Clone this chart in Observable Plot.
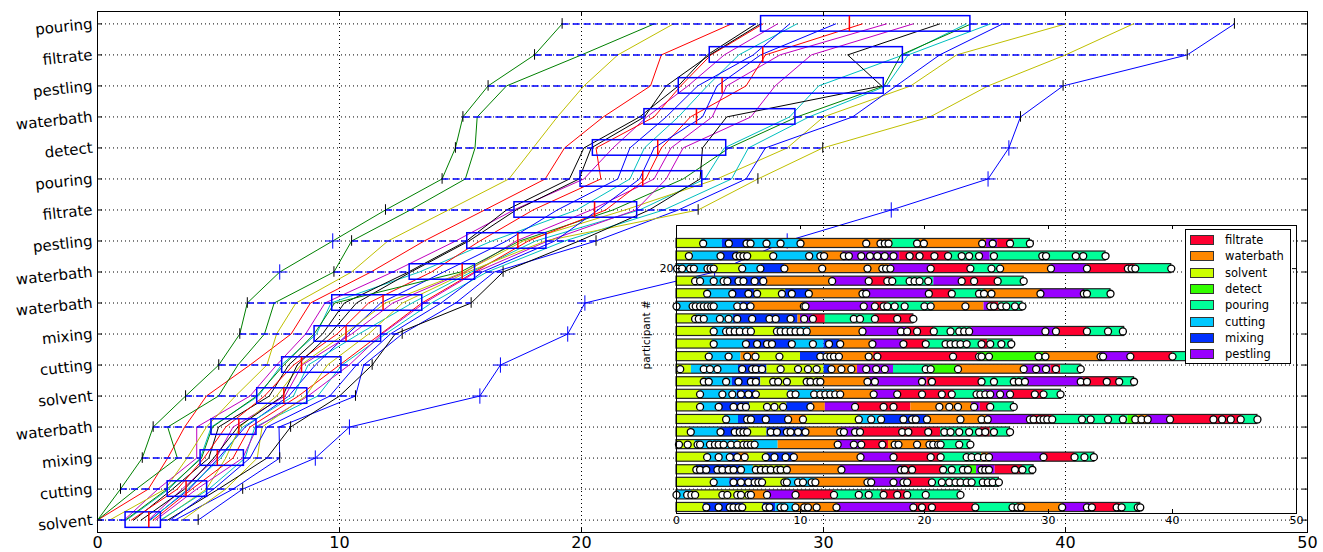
<!DOCTYPE html>
<html><head><meta charset="utf-8">
<script src="https://cdn.jsdelivr.net/npm/d3@7"></script>
<script src="https://cdn.jsdelivr.net/npm/@observablehq/plot@0.6"></script>
<style>
body{margin:0;background:#fff;}
#wrap{position:relative;width:1323px;height:552px;font-family:"DejaVu Sans",sans-serif;overflow:hidden;}
#inset{position:absolute;left:630px;top:215px;width:686px;height:318px;}
#legend{position:absolute;left:1185px;top:229px;width:106px;height:135px;background:#fff;border:1px solid #000;box-sizing:border-box;padding-top:2px;}
#legend .row{display:flex;align-items:center;height:16.3px;}
#legend .sw{width:24px;height:10px;margin-left:4px;border:1px solid #333;box-sizing:border-box;}
#legend .lb{margin-left:11px;font-size:11.5px;color:#000;}
</style></head><body><div id="wrap"></div>
<script>
// ---------- main chart data ----------
const stepLabels = ["solvent","cutting","mixing","waterbath","solvent","cutting","mixing","waterbath","waterbath","pestling","filtrate","pouring","detect","waterbath","pestling","filtrate","pouring"];
const xTicks = [0,10,20,30,40,50];
const lineColors = ["#0000ff","#008000","#ff0000","#00bfbf","#bf00bf","#bfbf00","#000000"];

// box-plot statistics per step
const boxQ1  = [1.16,2.9,4.26,4.71,6.6,7.63,8.97,9.7,12.9,15.28,17.23,19.96,20.47,22.6,24.02,25.3,27.42];
const boxMed = [2.12,3.66,4.95,5.84,7.7,8.43,10.27,11.8,15.07,17.37,20.54,22.53,23.15,24.75,25.81,27.49,31.07];
const boxQ3  = [2.62,4.53,6.05,6.57,8.67,10.08,11.72,13.42,15.6,18.55,22.3,24.99,25.98,28.84,32.49,33.28,36.07];
const whiskLo = [0,0.95,1.85,2.3,3.64,5.01,5.88,6.19,9.77,10.5,11.9,14.24,14.79,15.1,16.14,18.06,19.2];
const whiskHi = [4.16,6.0,7.53,7.98,10.66,11.35,12.59,15.44,16.76,20.6,24.82,27.29,29.97,38.14,39.9,45.03,46.98];
const flierStep = [2,3,4,5,6,7,8,8,9,9,10,11,12];
const flierTime = [9.0,10.41,15.8,16.65,19.43,20.14,7.53,25.5,9.72,28.5,32.8,36.8,37.66];

// cumulative time of each participant at each step: sorted times per step + participant order
const stepTimes = [
 [0,0,0,0.5,1.1,1.15,1.2,1.4,1.5,1.8,2.1,2.15,2.2,2.3,2.4,2.6,2.65,2.9,3.0,3.2,3.5,4.16],
 [0.95,1.6,2.1,2.5,2.8,2.88,2.95,3.1,3.3,3.5,3.6,3.72,3.8,3.9,4.1,4.5,4.6,4.8,5.0,5.3,5.6,6.0],
 [1.85,2.9,3.3,3.7,4.1,4.25,4.3,4.4,4.6,4.8,4.9,5.0,5.1,5.3,5.6,6.0,6.1,6.3,6.6,7.0,7.53,9.0],
 [2.3,2.9,3.6,4.1,4.5,4.7,4.75,5.0,5.3,5.6,5.8,5.88,6.0,6.1,6.3,6.5,6.6,6.8,7.0,7.5,7.98,10.41],
 [3.64,4.5,5.0,5.7,6.3,6.58,6.65,6.9,7.1,7.4,7.65,7.75,7.9,8.1,8.3,8.6,8.7,9.1,9.6,10.0,10.66,15.8],
 [5.01,5.8,6.3,7.0,7.4,7.6,7.7,7.9,8.1,8.25,8.4,8.46,8.7,9.0,9.5,10.0,10.1,10.4,10.7,11.0,11.35,16.65],
 [5.88,6.9,7.4,8.0,8.6,8.95,9.05,9.3,9.6,9.9,10.2,10.34,10.5,10.8,11.2,11.7,11.75,11.9,12.1,12.3,12.59,19.43],
 [6.19,7.3,8.2,8.8,9.4,9.65,9.8,10.2,10.7,11.2,11.7,11.9,12.2,12.6,13.0,13.4,13.5,13.8,14.2,14.8,15.44,20.14],
 [7.53,9.77,10.5,11.3,12.2,12.85,12.95,13.3,13.8,14.3,15.0,15.14,15.2,15.3,15.45,15.58,15.65,15.9,16.1,16.4,16.76,25.5],
 [9.72,10.5,12.0,13.5,14.8,15.25,15.35,15.8,16.3,16.9,17.3,17.44,17.6,17.8,18.1,18.5,18.6,18.9,19.3,19.9,20.6,28.5],
 [11.9,12.93,14.5,16.0,16.9,17.2,17.3,18.0,19.0,19.8,20.4,20.68,21.0,21.3,21.8,22.25,22.4,22.8,23.4,24.0,24.82,32.8],
 [14.24,15.2,17.0,18.5,19.5,19.9,20.1,20.8,21.5,22.0,22.4,22.66,23.0,23.5,24.2,24.9,25.1,25.6,26.2,26.8,27.29,36.8],
 [14.79,15.6,18.0,19.3,20.1,20.4,20.6,21.3,22.0,22.6,23.0,23.3,23.7,24.2,25.0,25.9,26.1,26.9,27.6,28.5,29.97,37.66],
 [15.1,15.69,19.0,20.9,22.4,22.6,22.7,23.0,23.5,24.0,24.5,25.0,25.4,26.0,27.0,28.6,28.9,29.4,30.0,31.2,34.4,38.14],
 [16.14,16.9,20.1,22.85,23.5,24.0,24.1,24.4,24.8,25.2,25.6,26.0,26.8,28.0,29.8,32.4,32.5,32.6,33.0,33.6,36.8,39.9],
 [18.06,20.0,21.5,23.3,25.2,25.3,25.35,25.9,26.5,27.1,27.4,27.6,28.2,29.5,31.0,33.2,33.3,33.5,34.8,35.5,40.0,45.03],
 [19.2,23.0,23.8,26.2,27.2,27.4,27.5,28.1,28.6,28.9,30.5,31.6,32.6,33.7,34.8,35.9,36.1,36.9,37.4,40.0,42.8,46.98]
];
const stepOrder = [
 [1,2,8,5,4,15,3,9,6,13,11,7,10,16,18,17,12,20,21,14,19,0],
 [1,8,2,4,5,15,3,6,9,11,13,10,7,16,18,12,17,21,20,19,14,0],
 [1,2,8,5,4,3,15,9,6,13,11,7,10,12,16,18,17,21,19,20,14,0],
 [1,8,2,4,5,3,15,6,9,11,13,12,10,7,16,17,18,19,21,14,20,0],
 [1,2,8,5,4,15,3,9,6,12,13,11,7,10,16,19,18,17,21,20,14,0],
 [1,8,2,5,4,3,15,6,9,13,12,11,10,7,19,16,17,18,21,14,20,0],
 [1,8,5,2,4,15,3,6,13,9,12,7,11,10,19,16,18,17,21,20,14,0],
 [1,8,5,2,4,3,15,6,13,9,7,12,11,19,10,16,18,17,21,14,20,0],
 [1,8,5,2,4,6,13,3,9,7,15,12,11,19,10,16,18,21,17,14,20,0],
 [1,8,5,2,4,6,13,9,3,7,11,15,12,16,10,19,18,21,17,20,14,0],
 [1,8,5,2,6,4,13,9,7,3,11,21,16,15,12,18,10,20,17,14,19,0],
 [1,8,5,2,6,13,4,9,7,3,21,16,11,18,15,20,10,12,17,14,19,0],
 [1,8,5,2,6,13,9,4,7,3,21,16,11,18,20,10,15,17,14,12,19,0],
 [1,8,5,2,6,13,4,9,7,3,16,21,11,20,18,10,15,17,12,14,19,0],
 [1,8,5,2,13,6,9,4,7,3,21,11,16,18,10,20,15,17,14,12,19,0],
 [1,8,5,2,6,13,9,4,3,7,21,16,11,18,20,15,10,17,14,12,19,0],
 [1,8,5,2,6,13,9,4,7,3,21,16,11,18,20,10,15,17,14,12,19,0]
];

// ---------- inset data (rows listed top to bottom: participant 22 .. 1) ----------
const stepNames = {S:"solvent",C:"cutting",M:"mixing",W:"waterbath",P:"pestling",F:"filtrate",O:"pouring",D:"detect"};
const legendSteps = ["filtrate","waterbath","solvent","detect","pouring","cutting","mixing","pestling"];
const legendColors = ["#ff0030","#ff8800","#ccff00","#33ff00","#00ff99","#00c8ff","#0030ff","#9900ff"];
const insetSteps = ["SCMCWOWPFO","SCMSCWPFOPO","CSCMWPFOWPFO","SCMWPFOPFO","SCMSMWPFOWPO","CMWPFOWPFO","SCMWPFOF","SCSCWPFOPFO","SCMCMWPFOFO","SCWSMWFDWPFO","SCMSMWPODWPFO","SCMSWPFOPFO","SCMSCWPFOPFO","SCMSMWPFWPFO","SCMWSCMWPFODWPFO","SCMSMWPFOFO","SCSCWPFWO","SCMWSMWPFOWPFO","SMCSWPFODPFO","SCMSCWPFO","CSWPFOFO","SMSMCWPFOWPFO"];
const insetBounds = [
 [0,2.0,3.7,6.0,9.9,17.4,19.6,25.0,25.9,27.2,28.5],
 [0,1.3,3.5,5.0,7.9,11.8,13.4,18.0,22.0,24.5,25.3,34.6],
 [0,3.0,5.3,6.8,8.7,17.2,20.5,23.7,26.2,30.2,33.1,37.0,39.9],
 [0,1.6,4.1,7.3,12.55,15.5,17.4,20.75,22.9,25.9,28.0],
 [0,2.5,4.5,6.3,8.8,10.7,15.0,20.35,22.2,24.8,29.35,32.9,35.0],
 [0,5.2,6.0,10.3,15.9,17.0,20.75,24.8,25.2,26.0,27.9],
 [0,1.6,4.6,9.8,10.0,11.0,12.0,16.0,19.1],
 [0,2.9,6.2,8.0,10.8,15.0,18.6,20.75,23.8,30.6,33.1,36.1],
 [0,2.9,5.6,9.2,11.9,13.2,15.7,18.3,20.2,24.5,25.1,27.1],
 [0,2.6,5.2,6.4,10.0,12.0,15.9,24.3,29.6,34.2,36.6,40.0,42.5],
 [0,1.2,5.0,7.3,11.9,12.4,14.6,17.5,20.5,22.6,28.0,30.2,31.0,32.6],
 [0,2.3,4.5,6.8,11.8,15.6,20.2,24.5,28.1,32.8,35.6,36.9],
 [0,1.9,4.9,6.4,9.0,12.8,15.9,17.8,22.4,24.8,27.0,29.6,31.0],
 [0,1.9,3.4,5.9,8.9,11.0,12.0,14.6,18.9,23.8,24.5,25.3,27.2],
 [0,3.9,5.0,8.9,10.5,14.7,16.7,20.2,25.0,28.7,30.3,36.4,37.2,38.0,39.8,45.6,46.85],
 [0,1.1,3.5,5.8,7.3,10.4,13.3,14.8,21.3,24.5,25.3,26.9],
 [0,1.5,5.0,6.2,8.2,13.0,14.9,17.1,21.3,23.7],
 [0,2.5,4.3,5.0,5.8,7.3,9.5,14.8,17.5,21.3,24.6,25.2,29.6,32.1,33.7],
 [0,1.6,5.2,6.2,8.9,13.2,18.2,21.5,23.5,24.2,25.7,27.9,28.8],
 [0,2.9,4.3,7.0,8.9,11.2,15.5,18.6,20.5,26.0],
 [0,1.2,5.9,7.3,9.5,12.7,16.5,18.5,22.9],
 [0,2.2,5.4,7.0,8.0,9.5,13.0,19.3,24.0,27.5,31.1,33.4,35.8,37.4]
];
const insetDots = [
 [2.15,4.22,5.65,5.97,7.26,8.39,10.0,15.3,16.45,16.8,17.1,19.4,19.95,24.65,25.5,26.9,28.5],
 [1.0,3.55,4.8,5.1,5.4,5.7,7.8,10.7,11.6,11.9,13.5,13.9,14.9,15.6,16.2,16.8,17.5,18.8,19.6,20.8,21.9,23.0,23.6,24.4,25.6,29.5,29.8,32.2,32.8,34.6],
 [0.05,0.45,1.1,1.4,2.5,2.75,3.0,5.3,6.77,8.7,11.75,15.4,16.6,16.9,17.25,20.5,23.7,25.4,26.1,30.2,33.1,36.4,36.7,37.0,39.9],
 [1.5,1.9,3.0,3.8,4.1,5.0,5.4,6.3,7.0,12.55,15.5,17.0,17.4,18.8,19.2,19.6,20.3,23.0,24.0,25.9,28.0],
 [2.47,4.5,5.8,6.5,8.5,9.3,10.67,15.0,15.3,20.35,22.2,24.4,24.8,25.4,29.35,32.85,33.1,35.0],
 [0,1.3,1.55,1.9,2.2,2.5,2.8,3.0,4.9,5.4,5.97,10.27,10.4,15.1,16.0,16.7,17.0,17.6,18.4,20.0,20.5,23.3,25.3,25.6,26.2,26.6,27.3,27.9],
 [1.5,1.8,2.2,3.5,4.2,4.9,6.1,7.5,8.0,9.2,10.3,11.0,14.3,14.8,16.0,17.8,19.1],
 [3.0,4.0,4.3,4.7,5.1,5.6,6.0,8.1,8.4,8.8,9.2,9.6,10.0,10.5,15.0,18.1,18.6,19.4,20.75,22.1,22.8,23.2,23.6,29.75,30.6,33.1,34.8,36.0],
 [3.0,5.6,6.5,7.3,7.7,9.3,11.0,12.3,13.2,15.8,18.3,20.1,21.7,22.1,22.5,22.9,23.4,24.6,25.3,26.2,27.0],
 [2.6,4.2,5.7,6.37,8.3,11.6,12.1,12.4,12.7,13.1,15.5,16.2,22.3,24.4,24.6,25.2,29.2,29.75,34.2,34.4,36.6,40.0],
 [0.3,2.2,2.7,3.3,5.3,6.1,6.4,6.9,8.4,9.8,10.6,11.3,12.5,13.3,14.1,15.3,16.1,16.8,20.1,20.5,22.7,28.0,29.0,29.8,30.6,32.6],
 [2.2,2.6,4.0,5.0,6.0,6.4,7.8,8.2,8.9,10.5,10.8,11.3,11.6,15.4,16.0,19.8,20.6,24.6,25.6,27.2,27.6,28.1,32.6,33.1,34.7,35.7,36.9],
 [1.9,3.7,4.5,5.2,5.8,6.4,9.2,9.6,11.1,11.6,12.0,12.4,12.8,13.2,15.9,17.8,19.8,21.4,22.2,24.2,24.5,24.9,25.3,26.1,26.9,28.9,29.6,30.97],
 [1.9,3.4,4.6,5.2,5.6,7.3,7.9,8.6,10.8,14.4,16.7,17.5,21.2,22.0,22.7,24.0,25.3,27.2],
 [4.0,5.7,6.0,7.2,9.0,10.2,14.7,15.7,16.5,18.3,19.0,19.3,20.2,22.9,24.6,25.1,28.5,28.8,29.3,29.6,29.9,30.3,32.7,33.4,34.8,36.0,37.0,37.5,38.0,39.8,43.3,44.0,44.7,45.5,46.85],
 [1.15,3.55,4.7,5.1,5.4,5.7,7.6,8.1,8.9,9.2,9.8,10.4,13.2,13.5,14.4,14.8,18.2,18.7,20.3,21.6,22.1,22.8,23.6,24.4,24.9,25.6,26.9],
 [0.2,0.9,1.7,1.9,2.7,3.1,3.4,3.8,4.4,4.9,5.4,5.7,6.0,6.3,13.0,14.3,14.9,16.6,17.6,17.9,19.4,20.4,20.7,21.1,21.3,22.8,23.7],
 [2.47,3.4,4.3,4.9,5.5,7.2,7.9,8.8,9.46,14.84,17.5,20.5,21.3,23.4,23.8,24.3,24.8,25.2,29.6,32.1,32.9,33.66],
 [1.6,1.9,2.4,3.3,3.7,4.2,4.6,5.2,6.4,6.8,7.2,7.6,8.1,8.4,8.9,13.3,18.1,18.4,19.0,21.5,22.2,23.1,23.5,24.6,24.9,25.2,27.3,27.9,28.7],
 [3.0,4.6,5.2,5.8,6.3,6.6,6.9,8.7,8.9,9.8,10.2,10.9,11.2,15.4,15.7,17.5,18.3,18.6,20.6,21.4,22.0,22.5,22.9,23.4,23.8,24.7,25.1,25.5,26.0],
 [0,0.86,1.2,1.5,3.7,4.1,4.9,5.2,5.8,6.0,7.3,9.6,12.7,14.7,15.5,16.7,17.8,18.6,20.1,22.9],
 [2.4,3.4,4.3,4.6,5.0,5.3,7.2,7.5,8.4,8.7,9.6,10.3,10.6,11.3,12.9,19.1,19.8,20.6,24.1,27.1,27.5,27.8,31.1,33.1,33.5,35.5,35.9,37.2,37.4]
];
const insetTicks = [0,10,20,30,40,50];
const insetYTicks = [20];

// ---------- build tables ----------
const levels = stepLabels.map((s, k) => k);
const boxes = levels.map(k => ({k, q1: boxQ1[k], med: boxMed[k], q3: boxQ3[k], lo: whiskLo[k], hi: whiskHi[k]}));
const fliers = flierStep.map((k, i) => ({k, t: flierTime[i]}));
const lineRows = [];
stepTimes.forEach((times, k) => times.forEach((t, i) => lineRows.push({p: stepOrder[k][i], k, t})));
lineRows.sort((a, b) => a.p - b.p || a.k - b.k);
const stepColor = Object.fromEntries(legendSteps.map((s, i) => [s, legendColors[i]]));

const nRows = insetSteps.length;
const segs = [], dots = [], extents = [];
insetSteps.forEach((str, i) => {
  const row = nRows - i;
  const b = insetBounds[i];
  str.split("").forEach((c, j) => segs.push({row, x1: b[j], x2: b[j+1], color: stepColor[stepNames[c]]}));
  extents.push({row, end: b[b.length-1]});
  insetDots[i].forEach(t => dots.push({row, t}));
});

// ---------- main chart ----------
const W = 1323, H = 552, mL = 97, mR = 16, mT = 11, mB = 20;
const fW = W - mL - mR, fH = H - mT - mB;
const main = Plot.plot({
  width: W, height: H, marginLeft: mL, marginRight: mR, marginTop: mT, marginBottom: mB,
  style: {fontFamily: "DejaVu Sans", color: "#000", background: "#fff"},
  x: {domain: [0, 50]},
  y: {domain: [-0.4, 16.4]},
  color: {type: "identity"},
  marks: [
    Plot.gridX(xTicks, {stroke: "#000", strokeOpacity: 1, strokeDasharray: "1,3"}),
    Plot.gridY(levels, {stroke: "#000", strokeOpacity: 1, strokeDasharray: "1,3"}),
    Plot.line(lineRows, {x: "t", y: "k", z: "p", stroke: d => lineColors[d.p % lineColors.length], strokeWidth: 1}),
    Plot.ruleY(boxes, {y: "k", x1: "lo", x2: "q1", stroke: "#0000ff", strokeWidth: 1.5, strokeDasharray: "7,4"}),
    Plot.ruleY(boxes, {y: "k", x1: "q3", x2: "hi", stroke: "#0000ff", strokeWidth: 1.5, strokeDasharray: "7,4"}),
    Plot.rect(boxes, {x1: "q1", x2: "q3", y1: d => d.k - 0.25, y2: d => d.k + 0.25, fill: "none", stroke: "#0000ff", strokeWidth: 1.5}),
    Plot.ruleX(boxes, {x: "med", y1: d => d.k - 0.25, y2: d => d.k + 0.25, stroke: "#ff0000", strokeWidth: 1.5}),
    Plot.ruleX(boxes, {x: "lo", y1: d => d.k - 0.17, y2: d => d.k + 0.17, stroke: "#000", strokeWidth: 1}),
    Plot.ruleX(boxes, {x: "hi", y1: d => d.k - 0.17, y2: d => d.k + 0.17, stroke: "#000", strokeWidth: 1}),
    Plot.dot(fliers, {x: "t", y: "k", symbol: "plus", r: 5, stroke: "#0000ff", strokeWidth: 1}),
    Plot.frame({stroke: "#000", strokeWidth: 1}),
    Plot.tickX(xTicks, {insetTop: fH - 5, stroke: "#000"}),
    Plot.tickX(xTicks, {insetBottom: fH - 5, stroke: "#000"}),
    Plot.tickY(levels, {insetRight: fW - 5, stroke: "#000"}),
    Plot.tickY(levels, {insetLeft: fW - 5, stroke: "#000"}),
    Plot.axisX({ticks: xTicks, tickSize: 0, tickPadding: 4, fontSize: 16, label: null}),
    Plot.axisY({ticks: levels, tickFormat: i => stepLabels[i], tickSize: 0, tickPadding: 5, fontSize: 15, tickRotate: -6, label: null})
  ]
});

// ---------- inset ----------
const iW = 686, iH = 318, iL = 46, iR = 20, iT = 10, iB = 20;
const ifW = iW - iL - iR, ifH = iH - iT - iB;
const inset = Plot.plot({
  width: iW, height: iH, marginLeft: iL, marginRight: iR, marginTop: iT, marginBottom: iB,
  style: {fontFamily: "DejaVu Sans", color: "#000", background: "transparent"},
  x: {domain: [0, 50]},
  y: {domain: [0.52, 23.43]},
  color: {type: "identity"},
  marks: [
    Plot.rect(segs, {x1: "x1", x2: "x2", y1: d => d.row - 0.36, y2: d => d.row + 0.36, fill: "color"}),
    Plot.rect(extents, {x1: 0, x2: "end", y1: d => d.row - 0.36, y2: d => d.row + 0.36, fill: "none", stroke: "#222", strokeWidth: 1.2}),
    Plot.dot(dots, {x: "t", y: "row", r: 3.5, fill: "#fff", stroke: "#000", strokeWidth: 1.3}),
    Plot.frame({stroke: "#000", strokeWidth: 1}),
    Plot.tickX(insetTicks, {insetTop: ifH - 4, stroke: "#000"}),
    Plot.tickX(insetTicks, {insetBottom: ifH - 4, stroke: "#000"}),
    Plot.tickY(insetYTicks, {insetRight: ifW - 4, stroke: "#000"}),
    Plot.tickY(insetYTicks, {insetLeft: ifW - 4, stroke: "#000"}),
    Plot.axisX({ticks: insetTicks, tickSize: 0, tickPadding: 3, fontSize: 11, label: null}),
    Plot.axisY({ticks: insetYTicks, tickSize: 0, tickPadding: 3, fontSize: 11, label: null}),
    Plot.text(["participant #"], {frameAnchor: "left", rotate: -90, dx: -30, fontSize: 10.5})
  ]
});

const wrap = document.getElementById("wrap");
wrap.appendChild(main);
const insetDiv = document.createElement("div");
insetDiv.id = "inset";
insetDiv.appendChild(inset);
wrap.appendChild(insetDiv);

const legend = document.createElement("div");
legend.id = "legend";
legendSteps.forEach((s, i) => {
  const r = document.createElement("div"); r.className = "row";
  const sw = document.createElement("div"); sw.className = "sw"; sw.style.background = legendColors[i];
  const lb = document.createElement("span"); lb.className = "lb"; lb.textContent = s;
  r.appendChild(sw); r.appendChild(lb); legend.appendChild(r);
});
wrap.appendChild(legend);
</script>
</body></html>
